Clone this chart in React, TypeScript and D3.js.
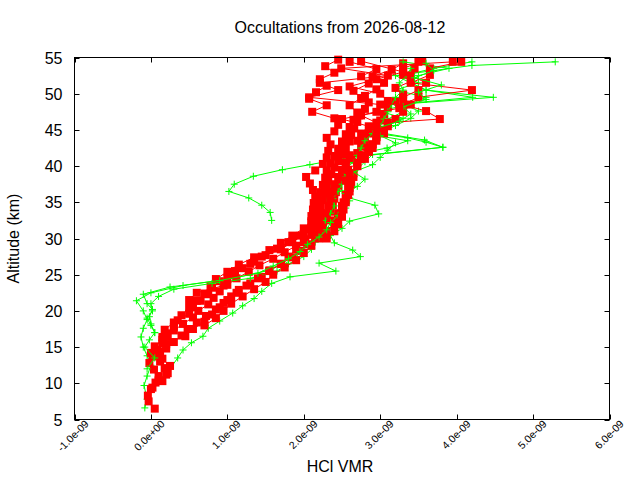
import React from "react";
import * as d3 from "d3";

// ---- Chart text ----
const title = "Occultations from 2026-08-12";
const xLabel = "HCl VMR";
const yLabel = "Altitude (km)";
const xTickValues = [-1e-9, 0, 1e-9, 2e-9, 3e-9, 4e-9, 5e-9, 6e-9];
const xTickLabels = ["-1.0e-09", "0.0e+00", "1.0e-09", "2.0e-09", "3.0e-09", "4.0e-09", "5.0e-09", "6.0e-09"];
const yTickValues = [5, 10, 15, 20, 25, 30, 35, 40, 45, 50, 55];

// VMR values below are in units of 1e-9 (ppbv)
const UNIT = 1e-9;

// ---- Red profiles (squares) ----
const red1Alt = [6.5, 7.5, 8.3, 9.2, 10.1, 11, 11.9, 12.8, 13.7, 14.6, 15.5, 16.4, 17.3, 18.2, 19.1, 20, 20.9, 21.8, 22.7, 23.6, 24.5, 25.4, 26.3, 27.2, 28.1, 29, 29.9, 30.8, 31.7, 32.6, 33.5, 34.4, 35.3, 36.2, 37.1, 38, 38.9, 39.8, 40.7, 41.6, 42.5, 43.4, 44.3, 45.2, 46.1, 47, 47.9, 48.8, 49.7, 50.6, 51.5, 52.4, 53.3, 54.2];
const red1Vmr = [0.05, -0.03, -0.04, 0.0, 0.06, 0.1, 0.04, -0.02, 0.02, 0.08, 0.15, 0.22, 0.3, 0.42, 0.55, 0.62, 0.75, 0.82, 0.9, 1.0, 1.12, 1.28, 1.42, 1.6, 1.75, 1.9, 2.02, 2.1, 2.15, 2.18, 2.2, 2.22, 2.25, 2.28, 2.3, 2.32, 2.36, 2.4, 2.45, 2.5, 2.55, 2.6, 2.62, 2.66, 2.7, 2.72, 2.8, 2.85, 2.8, 2.95, 3.05, 2.9, 3.15, 3.3];

const red2Alt = [10.3, 11.2, 12.1, 13, 13.9, 14.8, 15.7, 16.6, 17.5, 18.4, 19.3, 20.2, 21.1, 22, 22.9, 23.8, 24.7, 25.6, 26.5, 27.4, 28.3, 29.2, 30.1, 31, 31.9, 32.8, 33.7, 34.6, 35.5, 36.4, 37.3, 38.2, 39.1, 40, 40.9, 41.8, 42.7, 43.6, 44.5, 45.4, 46.3, 47.2, 48.1, 49, 49.9, 50.8, 51.7, 52.6, 53.5, 54.4];
const red2Vmr = [0.15, 0.2, 0.18, 0.12, 0.1, 0.2, 0.3, 0.4, 0.48, 0.6, 0.72, 0.85, 0.95, 1.05, 1.15, 1.3, 1.45, 1.55, 1.7, 1.85, 1.95, 2.05, 2.15, 2.2, 2.25, 2.3, 2.35, 2.38, 2.4, 2.42, 2.45, 2.5, 2.52, 2.55, 2.62, 2.7, 2.75, 2.8, 2.85, 2.9, 3.0, 3.05, 3.1, 3.2, 3.3, 3.2, 3.4, 3.3, 3.45, 3.5];

const red3Alt = [14.2, 15.1, 16, 16.9, 17.8, 18.7, 19.6, 20.5, 21.4, 22.3, 23.2, 24.1, 25, 25.9, 26.8, 27.7, 28.6, 29.5, 30.4, 31.3, 32.2, 33.1, 34, 34.9, 35.8, 36.7, 37.6, 38.5, 39.4, 40.3, 41.2, 42.1, 43, 43.9, 44.8, 45.7, 46.6, 47.5, 48.4, 49.3, 50.2, 51.1, 52, 52.9, 53.8, 54.7];
const red3Vmr = [0.0, 0.05, 0.15, 0.2, 0.3, 0.35, 0.5, 0.55, 0.65, 0.75, 0.8, 0.9, 1.05, 1.2, 1.35, 1.5, 1.65, 1.8, 1.95, 2.05, 2.1, 2.1, 2.12, 2.13, 2.15, 2.12, 2.08, 2.03, 2.15, 2.25, 2.3, 2.32, 2.35, 2.3, 2.4, 2.45, 2.4, 2.11, 2.3, 2.07, 2.16, 2.3, 2.21, 2.4, 2.28, 2.45];

const red4Alt = [18, 19, 20, 21, 22, 23, 24, 25, 26, 27, 28, 29, 30, 31, 32, 33, 34, 35, 36, 37, 38, 39, 40, 41, 42, 43, 44, 45, 46, 46.5, 47.6, 48.5, 49.5, 50.5, 51.5, 52.6, 53.5, 54.4];
const red4Vmr = [0.7, 0.85, 0.95, 1.05, 1.2, 1.35, 1.5, 1.6, 1.75, 1.9, 2.0, 2.1, 2.2, 2.3, 2.4, 2.45, 2.5, 2.52, 2.55, 2.58, 2.6, 2.65, 2.7, 2.75, 2.85, 2.9, 2.95, 3.0, 3.1, 3.78, 3.6, 3.3, 3.5, 4.2, 3.4, 3.65, 3.65, 4.06];

const red5Alt = [21.5, 22.5, 23.5, 24.5, 25.5, 26.5, 27.5, 28.5, 29.5, 30.5, 31.5, 32.5, 33.5, 34.5, 35.5, 36.5, 37.5, 38.5, 39.5, 40.5, 41.5, 42.5, 43.5, 44.5, 45.5, 46.5, 47.5, 48.5, 49.5, 50.5, 51.5, 52.5, 53.5, 54.4];
const red5Vmr = [0.5, 0.6, 0.95, 1.0, 1.1, 1.3, 1.45, 1.7, 1.85, 2.0, 2.1, 2.2, 2.28, 2.32, 2.35, 2.38, 2.4, 2.45, 2.5, 2.55, 2.6, 2.9, 2.7, 2.75, 2.85, 2.5, 2.95, 3.0, 2.07, 2.45, 2.21, 3.1, 2.49, 3.95];

const red6Alt = [30, 31, 32, 33, 34, 35, 36, 37, 38, 39, 40, 41, 42, 43, 44, 45, 46, 47, 48, 49, 50, 51, 52, 53, 54.5];
const red6Vmr = [2.3, 2.4, 2.45, 2.5, 2.52, 2.55, 2.58, 2.6, 2.55, 2.6, 2.7, 2.8, 2.85, 2.9, 2.95, 2.95, 2.95, 2.75, 3.25, 3.1, 3.0, 2.6, 2.95, 3.3, 2.75];

const red7Alt = [9.4, 10.4, 11.4, 12.4, 13.4, 14.4, 15.4, 16.4, 17.4, 18.4, 19.4, 20.4, 21.4, 22.4, 23.4, 24.4, 25.4, 26.4, 27.4, 28.4, 29.4, 30.4, 31.4, 32.4, 33.4, 34.4, 35.4, 36.4, 37.4, 38.4, 39.4, 40.4, 41.4, 42.4, 43.4, 44.4, 45.4, 46.4, 47.4, 48.4, 49.4, 50.4, 51.4, 52.4, 53.4, 54.4];
const red7Vmr = [0.02, 0.1, 0.22, 0.25, 0.15, 0.12, 0.2, 0.15, 0.18, 0.3, 0.4, 0.5, 0.6, 0.7, 0.78, 0.85, 1.0, 1.15, 1.35, 1.55, 1.7, 1.85, 2.0, 2.1, 2.12, 2.15, 2.18, 2.22, 2.25, 2.28, 2.3, 2.35, 2.4, 2.45, 2.5, 2.55, 2.6, 2.65, 2.7, 2.6, 2.75, 2.65, 2.85, 2.75, 2.95, 2.6];

const red8Alt = [16.5, 17.5, 18.5, 19.5, 20.5, 21.5, 22.5, 23.5, 24.5, 25.5, 26.5, 27.5, 28.5, 29.5, 30.5, 31.5, 32.5, 33.5, 34.5, 35.5, 36.5, 37.5, 38.5, 39.5, 40.5, 41.5, 42.5, 43.5, 44.5, 45.5, 46.5, 47.5, 48.5, 49.5, 50.5, 51.5, 52.5, 53.5, 54.5];
const red8Vmr = [0.45, 0.55, 0.7, 0.8, 0.9, 1.0, 1.12, 1.25, 1.4, 1.55, 1.7, 1.8, 1.9, 2.0, 2.12, 2.25, 2.35, 2.45, 2.5, 2.55, 2.6, 2.62, 2.65, 2.58, 2.7, 2.75, 2.85, 2.95, 3.05, 3.1, 3.2, 3.3, 3.4, 3.3, 3.5, 3.6, 3.4, 3.3, 3.55];

// ---- Green profiles (plus markers) ----
const green1Alt = [6.6, 7.8, 9.7, 11, 12.5, 13.8, 15, 16.4, 17.6, 18.8, 20, 21.4, 22.5, 23.5, 24.5, 25.5, 26.5, 27.5, 28.5, 29.5, 30.5, 31.5, 32.5, 33.5, 34.5, 35.5, 36.5, 37.5, 38.5, 39.5, 40.5, 41.5, 42.5, 43.5, 44.5, 45.5, 46.5, 47.5, 48.5, 49.5, 50.5, 51.5, 52.5, 53.9, 54.4];
const green1Vmr = [-0.08, -0.05, -0.09, -0.05, 0.0, -0.05, -0.1, -0.13, -0.1, -0.05, -0.1, -0.19, 0.0, 0.42, 1.07, 1.5, 1.75, 1.9, 2.0, 2.1, 2.15, 2.2, 2.25, 2.15, 2.2, 2.3, 2.25, 2.35, 2.5, 2.6, 2.55, 2.6, 3.09, 3.36, 2.8, 2.9, 3.1, 3.3, 3.2, 4.48, 3.6, 3.4, 3.2, 4.2, 5.29];

const green2Alt = [32.5, 33.6, 34.6, 35.6, 36.5, 37.5, 38.6, 39.5, 40.2, 41.2, 42.6, 43.3, 43.9, 44.6, 45.6, 46.6, 47.6, 48.6, 49.5, 50.5, 51.5, 52.5, 53.5, 54.4];
const green2Vmr = [1.58, 1.56, 1.45, 1.28, 1.02, 1.09, 1.34, 1.72, 2.08, 2.6, 3.82, 3.6, 3.36, 2.9, 3.1, 3.3, 3.0, 3.4, 3.6, 3.2, 3.5, 3.3, 3.7, 4.2];

const green3Alt = [10.5, 12, 13.5, 14.6, 15.6, 16.5, 17.6, 18.6, 19.7, 20.7, 21.7, 22.7, 23.8, 24.7, 25.5, 26.6, 27.5, 28.4, 29.4, 30.4, 31.4, 32.4, 33.4, 34.6, 35.6, 36.6, 37.6, 38.6, 39.6, 40.6, 41.6, 42.6, 43.6, 44.6, 45.6, 46.6, 47.6, 48.6, 49.5, 50.5, 51.5, 52.5, 53.5, 54.4];
const green3Vmr = [0.15, 0.25, 0.35, 0.42, 0.53, 0.68, 0.75, 0.9, 1.07, 1.2, 1.35, 1.45, 1.58, 1.82, 2.42, 2.2, 2.74, 2.64, 2.4, 2.35, 2.5, 2.6, 2.98, 2.93, 2.6, 2.5, 2.45, 2.55, 2.7, 2.8, 2.9, 3.82, 3.58, 3.0, 3.2, 3.4, 3.5, 3.3, 4.21, 3.6, 3.4, 3.5, 3.9, 3.3];

const green4Alt = [12, 13.5, 15, 16, 17, 18, 19, 20, 21, 22, 23, 23.8, 24.5, 25.5, 26.5, 27.5, 28.5, 29.5, 30.5, 31.5, 32.5, 33.5, 34.5, 35.5, 36.5, 37.5, 38.5, 39.5, 40.5, 41.5, 42.5, 43.5, 44.5, 45.5, 46.5, 47.5, 48.5, 49.5, 50.5, 51.5, 52.5, 53.5];
const green4Vmr = [-0.05, 0.05, -0.08, -0.02, 0.05, 0.0, -0.05, 0.02, 0.0, 0.1, 0.3, 0.8, 1.3, 1.65, 1.8, 2.0, 2.1, 2.15, 2.25, 2.3, 2.28, 2.35, 2.4, 2.38, 2.45, 2.5, 2.55, 2.5, 2.65, 2.7, 2.75, 2.8, 2.9, 3.0, 3.05, 3.1, 3.15, 3.2, 3.3, 3.25, 3.35, 3.4];

const green5Alt = [17, 18.2, 19.2, 20.2, 21, 22.3, 23.3, 24.2, 25.2, 26.2, 27.2, 28.2, 29.2, 30.2, 31.2, 32.2, 33.2, 34.2, 35.2, 36.2, 37.2, 38.2, 39.2, 40.2, 41.2, 42.2, 43.2, 44.2, 45.2, 46.2, 47.2, 48.2, 49.2, 50.2, 51.2, 52.2, 53.2, 54.2];
const green5Vmr = [0.05, 0.0, -0.02, 0.02, -0.05, -0.1, 0.25, 0.9, 1.4, 1.6, 1.8, 1.95, 2.05, 2.2, 2.3, 2.35, 2.45, 2.55, 2.6, 2.55, 2.7, 2.8, 2.65, 2.9, 3.0, 3.1, 3.2, 3.0, 2.95, 3.25, 3.4, 3.3, 3.6, 3.5, 3.8, 3.45, 3.7, 3.6];

type Profile = { color: "red" | "green"; alt: number[]; vmr: number[] };

// drawing order
const profiles: Profile[] = [
  { color: "green", alt: green1Alt, vmr: green1Vmr },
  { color: "green", alt: green2Alt, vmr: green2Vmr },
  { color: "red", alt: red1Alt, vmr: red1Vmr },
  { color: "green", alt: green3Alt, vmr: green3Vmr },
  { color: "red", alt: red2Alt, vmr: red2Vmr },
  { color: "red", alt: red7Alt, vmr: red7Vmr },
  { color: "red", alt: red3Alt, vmr: red3Vmr },
  { color: "green", alt: green4Alt, vmr: green4Vmr },
  { color: "red", alt: red4Alt, vmr: red4Vmr },
  { color: "red", alt: red8Alt, vmr: red8Vmr },
  { color: "red", alt: red5Alt, vmr: red5Vmr },
  { color: "green", alt: green5Alt, vmr: green5Vmr },
  { color: "red", alt: red6Alt, vmr: red6Vmr },
];

const W = 640;
const H = 480;
const L = 74.5;
const R = 609.5;
const T = 57.5;
const B = 419.5;
const FONT = "'Liberation Sans', Arial, Helvetica, sans-serif";
const RED = "#ff0000";
const GREEN = "#00ff00";
const SQ = 8;

export default function App() {
  const x = d3.scaleLinear().domain([-1e-9, 6e-9]).range([L, R]);
  const y = d3.scaleLinear().domain([5, 55]).range([B, T]);
  const tick = 5;

  const line = d3
    .line<[number, number]>()
    .x((d) => x(d[0] * UNIT))
    .y((d) => y(d[1]));

  return (
    <svg
      width={W}
      height={H}
      style={{ position: "absolute", left: 0, top: 0, background: "#fff" }}
      fontFamily={FONT}
    >
      <rect x={0} y={0} width={W} height={H} fill="#fff" />
      {profiles.map((p, i) => {
        const pts: [number, number][] = p.vmr.map((v, k) => [v, p.alt[k]]);
        const col = p.color === "red" ? RED : GREEN;
        return (
          <g key={i}>
            <path d={line(pts) || ""} fill="none" stroke={col} strokeWidth={1} />
            {pts.map((d, k) => {
              const cx = x(d[0] * UNIT);
              const cy = y(d[1]);
              return p.color === "red" ? (
                <rect key={k} x={cx - SQ / 2} y={cy - SQ / 2} width={SQ} height={SQ} fill={RED} />
              ) : (
                <path
                  key={k}
                  d={`M${cx - 3.5},${cy}H${cx + 3.5}M${cx},${cy - 3.5}V${cy + 3.5}`}
                  stroke={GREEN}
                  strokeWidth={1}
                  fill="none"
                />
              );
            })}
          </g>
        );
      })}

      {/* frame */}
      <rect x={L} y={T} width={R - L} height={B - T} fill="none" stroke="#000" strokeWidth={1} />

      {/* x ticks */}
      {xTickValues.map((v, i) => {
        const px = Math.round(x(v)) + 0.5;
        return (
          <g key={"xt" + i}>
            <line x1={px} x2={px} y1={B} y2={B - tick} stroke="#000" />
            <line x1={px} x2={px} y1={T} y2={T + tick} stroke="#000" />
            <text
              transform={`translate(${px + 14},${B + 5}) rotate(-45)`}
              textAnchor="end"
              fontSize={10.5}
              fill="#000"
            >
              {xTickLabels[i]}
            </text>
          </g>
        );
      })}

      {/* y ticks */}
      {yTickValues.map((v, i) => {
        const py = Math.round(y(v)) + 0.5;
        return (
          <g key={"yt" + i}>
            <line x1={L} x2={L + tick} y1={py} y2={py} stroke="#000" />
            <line x1={R} x2={R - tick} y1={py} y2={py} stroke="#000" />
            <text x={L - 12} y={py + 5.5} textAnchor="end" fontSize={16} fill="#000">
              {String(v)}
            </text>
          </g>
        );
      })}

      <text x={340} y={32.5} textAnchor="middle" fontSize={16} fill="#000">
        {title}
      </text>
      <text x={340} y={472} textAnchor="middle" fontSize={16} fill="#000">
        {xLabel}
      </text>
      <text
        transform={`translate(18.5,${(T + B) / 2}) rotate(-90)`}
        textAnchor="middle"
        fontSize={16}
        fill="#000"
      >
        {yLabel}
      </text>
    </svg>
  );
}
